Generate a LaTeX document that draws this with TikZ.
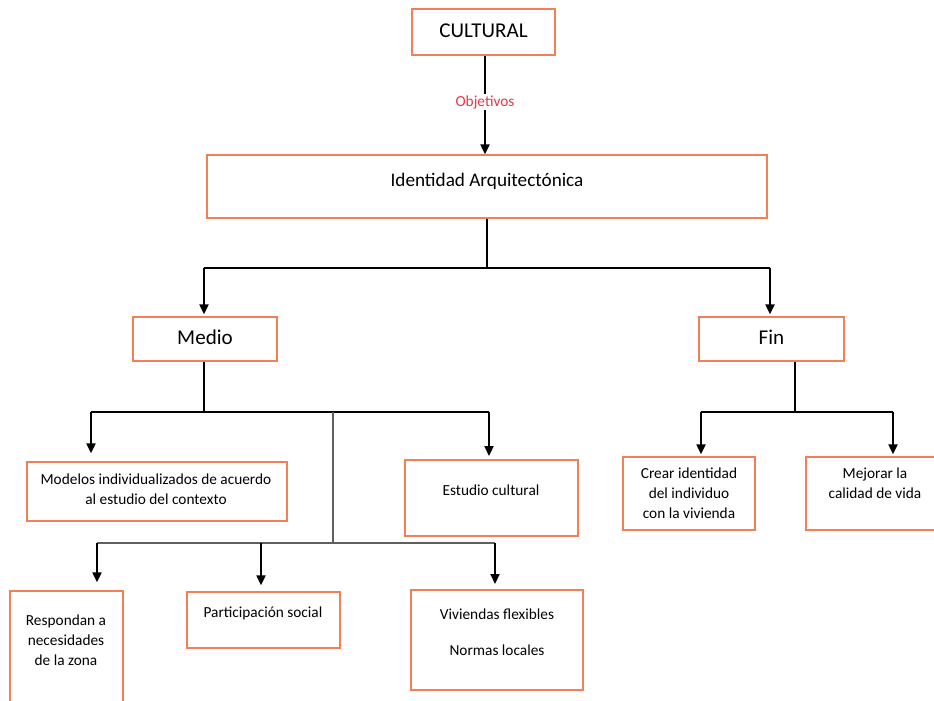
\documentclass[tikz,border=0pt]{standalone}
\usepackage{fontspec}
\setmainfont{Carlito}
\usetikzlibrary{arrows.meta,fit}
\definecolor{boxor}{RGB}{241,128,84}
\definecolor{objred}{RGB}{232,52,72}
\definecolor{lgray}{RGB}{95,95,95}
\tikzset{
  box/.style={draw=boxor,line width=1pt,inner sep=0pt},
  ln/.style={draw=black,line width=0.8pt},
  gln/.style={draw=lgray,line width=1.1pt},
  arr/.style={draw=black,line width=1.4pt,-{Triangle[length=7.5pt,width=6.8pt]},shorten >=1.5pt},
  small/.style={font=\fontsize{11.5}{15}\selectfont,align=center,inner sep=0pt},
  big/.style={font=\fontsize{15.8}{18}\selectfont,inner sep=0pt},
}
\begin{document}
\begin{tikzpicture}[x=0.75pt,y=-0.75pt]
\useasboundingbox (0,0) rectangle (934,700);
% boxes
\node[box,fit={(412,9)(555,55)}] (cult) {};
\node[box,fit={(207,155)(767,218)}] (ident) {};
\node[box,fit={(133,317)(277,361)}] (medio) {};
\node[box,fit={(699,317)(844,361)}] (fin) {};
\node[box,fit={(27,462)(287,521)}] (modelos) {};
\node[box,fit={(405,460)(578,536)}] (estudio) {};
\node[box,fit={(10,591)(123,705)}] (respondan) {};
\node[box,fit={(187,592)(340,648)}] (partic) {};
\node[box,fit={(411,590)(583,690)}] (viviendas) {};
\node[box,fit={(623,457)(755,530)}] (crear) {};
\node[box,fit={(806,457)(940,530)}] (mejorar) {};
% texts
\node[big] (tcult) at (483.5,31) {CULTURAL};
\node[font=\fontsize{14.4}{17}\selectfont,inner sep=0pt] (tident) at (487,181) {Identidad Arquitectónica};
\node[big] (tmedio) at (205,337) {Medio};
\node[big] (tfin) at (771.5,337) {Fin};
\node[small] (tmodelos) at (156,489) {Modelos individualizados de acuerdo\\al estudio del contexto};
\node[small] (testudio) at (491,490) {Estudio cultural};
\node[small] (tresp) at (66,640) {Respondan a\\necesidades\\de la zona};
\node[small] (tpartic) at (263,613) {Participación social};
\node[small] (tviv1) at (497,614) {Viviendas flexibles};
\node[small] (tviv2) at (497,650) {Normas locales};
\node[small] (tcrear) at (689,493) {Crear identidad\\del individuo\\con la vivienda};
\node[small] (tmejorar) at (875,483) {Mejorar la\\calidad de vida};
% Cultural -> Identidad
\node[font=\fontsize{11.5}{13}\selectfont,text=objred,inner sep=1pt] (obj) at (485,102) {Objetivos};
\draw[ln] (cult.south -| obj) -- (obj.north);
\draw[arr,shorten >=0pt] (obj.south) -- (ident.north -| obj);
% Identidad -> Medio, Fin
\coordinate (j1) at (487,268);
\coordinate (j1l) at (204,268);
\coordinate (j1r) at (770,268);
\draw[ln] (ident.south) -- (j1);
\draw[ln] (j1l) -- (j1r);
\draw[arr] (j1l) -- (j1l |- medio.north);
\draw[arr] (j1r) -- (j1r |- fin.north);
% Medio -> Modelos, Estudio, lower tree
\coordinate (j2) at (204,412);
\coordinate (j2l) at (91,412);
\coordinate (j2r) at (489,412);
\coordinate (j2m) at (333,412);
\draw[ln] (medio.south -| j2) -- (j2);
\draw[ln] (j2l) -- (j2r);
\draw[arr,shorten >=6pt] (j2l) -- (j2l |- modelos.north);
\draw[arr,shorten >=2.5pt] (j2r) -- (j2r |- estudio.north);
\coordinate (j3) at (333,543);
\coordinate (j3l) at (97,543);
\coordinate (j3r) at (495,543);
\coordinate (j3m) at (261,543);
\draw[gln] (j2m) -- (j3);
\draw[gln] (j3l) -- (j3r);
\draw[arr,shorten >=6pt] (j3l) -- (j3l |- respondan.north);
\draw[arr,shorten >=4.5pt] (j3m) -- (j3m |- partic.north);
\draw[arr,shorten >=4pt] (j3r) -- (j3r |- viviendas.north);
% Fin -> Crear, Mejorar
\coordinate (j4) at (795,412);
\coordinate (j4l) at (701,412);
\coordinate (j4r) at (893,412);
\draw[ln] (fin.south -| j4) -- (j4);
\draw[ln] (j4l) -- (j4r);
\draw[arr] (j4l) -- (j4l |- crear.north);
\draw[arr] (j4r) -- (j4r |- mejorar.north);
\end{tikzpicture}
\end{document}
